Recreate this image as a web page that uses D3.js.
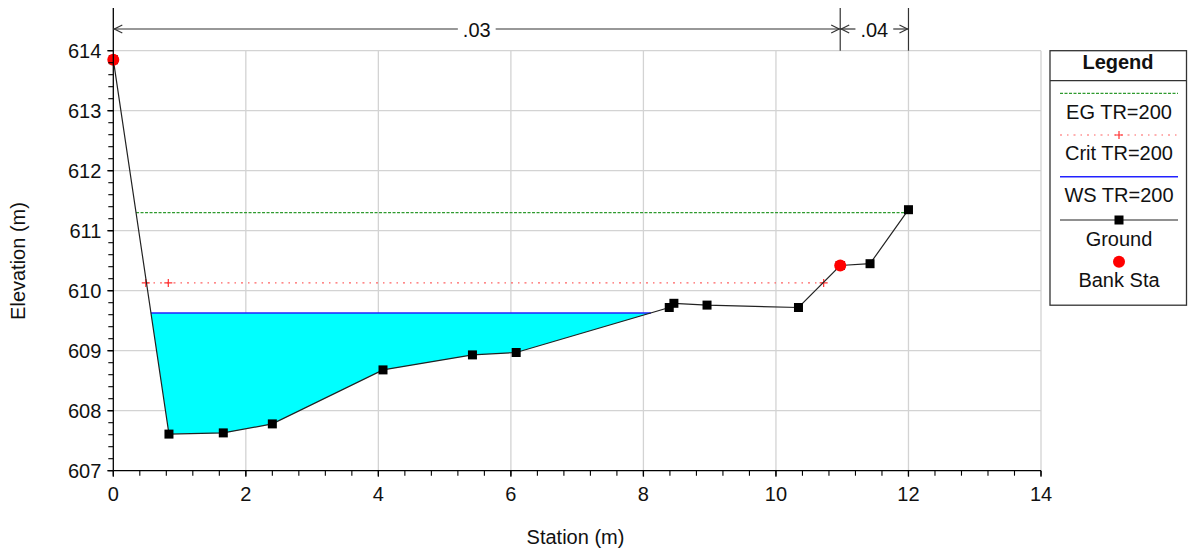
<!DOCTYPE html>
<html><head><meta charset="utf-8">
<script src="https://cdn.jsdelivr.net/npm/d3@7"></script>
<style>
body{margin:0;background:#fff;}
text{font-family:Arial,"Liberation Sans",sans-serif;}
</style></head>
<body><svg id="c" width="1189" height="554"></svg>
<script>
// ---- data ----
const groundStation = [0, 0.84, 1.66, 2.40, 4.07, 5.42, 6.08, 8.39, 8.46, 8.96, 10.34, 10.97, 11.42, 12.0];
const groundElev    = [613.85, 607.61, 607.63, 607.78, 608.68, 608.93, 608.97, 609.72, 609.79, 609.76, 609.72, 610.42, 610.45, 611.35];
const bankStation = [0, 10.97];
const bankElev    = [613.85, 610.42];
const egElev = 611.30;
const wsElev = 609.63;
const critElev = 610.13;
const critMarkStation = [0.49, 0.83, 10.72];
const nChangeStation = [0, 10.97, 12.0];
const nValues = [".03", ".04"];
const xTicks = [0, 2, 4, 6, 8, 10, 12, 14];
const yTicks = [607, 608, 609, 610, 611, 612, 613, 614];
const legendLabels = ["EG TR=200", "Crit TR=200", "WS TR=200", "Ground", "Bank Sta"];

const FS = 20;
const svg = d3.select("#c");
const x = d3.scaleLinear().domain([0, 14]).range([113.3, 1041]);
const y = d3.scaleLinear().domain([607, 614]).range([470.7, 50.7]);
const ground = groundStation.map((s, i) => [s, groundElev[i]]);

// grid
const g = svg.append("g");
g.selectAll(".gx").data(xTicks.slice(1)).join("line")
  .attr("x1", d => x(d)).attr("x2", d => x(d)).attr("y1", y(607)).attr("y2", y(614))
  .attr("stroke", "#d3d3d3").attr("stroke-width", 1.3);
g.selectAll(".gy").data(yTicks.slice(1)).join("line")
  .attr("x1", x(0)).attr("x2", x(14)).attr("y1", d => y(d)).attr("y2", d => y(d))
  .attr("stroke", "#d3d3d3").attr("stroke-width", 1.3);

// intersection helper: where the ground crosses a level
function crossings(level) {
  const out = [];
  for (let i = 0; i < ground.length - 1; i++) {
    const [s0, e0] = ground[i], [s1, e1] = ground[i + 1];
    if ((e0 - level) * (e1 - level) <= 0 && e0 !== e1) {
      out.push(s0 + (level - e0) / (e1 - e0) * (s1 - s0));
    }
  }
  return out;
}

// water fill
const wsX = crossings(wsElev);
const wsL = wsX[0], wsR = wsX[1];
const poly = [[wsL, wsElev]].concat(ground.filter(p => p[0] > wsL && p[0] < wsR)).concat([[wsR, wsElev]]);
svg.append("path").datum(poly)
  .attr("d", d3.line().x(d => x(d[0])).y(d => y(d[1])))
  .attr("fill", "#00ffff").attr("stroke", "none");
svg.append("line").attr("x1", x(wsL)).attr("x2", x(wsR)).attr("y1", y(wsElev)).attr("y2", y(wsElev))
  .attr("stroke", "#2222ff").attr("stroke-width", 1.5);

// EG
const egX = crossings(egElev);
svg.append("line").attr("x1", x(egX[0])).attr("x2", x(12)).attr("y1", y(egElev)).attr("y2", y(egElev))
  .attr("stroke", "#2f9a2f").attr("stroke-width", 1.3).attr("stroke-dasharray", "3,1.5");

// Crit
const crX = crossings(critElev);
svg.append("line").attr("x1", x(crX[0])).attr("x2", x(crX[crX.length - 1]) + 4).attr("y1", y(critElev)).attr("y2", y(critElev))
  .attr("stroke", "#ff6060").attr("stroke-width", 1.2).attr("stroke-dasharray", "2,5,1.5,5");
svg.selectAll(".cm").data(critMarkStation).join("path")
  .attr("d", d => `M${x(d) - 4},${y(critElev)}h8M${x(d)},${y(critElev) - 4}v8`)
  .attr("stroke", "#ff3030").attr("stroke-width", 1.2);

// ground
svg.append("path").datum(ground)
  .attr("d", d3.line().x(d => x(d[0])).y(d => y(d[1])))
  .attr("fill", "none").attr("stroke", "#222").attr("stroke-width", 1.2);
svg.selectAll(".gm").data(ground).join("rect")
  .attr("x", d => x(d[0]) - 4.5).attr("y", d => y(d[1]) - 4.5).attr("width", 9).attr("height", 9)
  .attr("fill", "#000");
svg.selectAll(".bk").data(bankStation).join("circle")
  .attr("cx", d => x(d)).attr("cy", (d, i) => y(bankElev[i])).attr("r", 6).attr("fill", "#ff0000");

// axes
const ax = svg.append("g").attr("stroke", "#000").attr("stroke-width", 1.3);
ax.append("line").attr("x1", x(0)).attr("x2", x(0)).attr("y1", 8).attr("y2", y(607));
ax.append("line").attr("x1", x(0)).attr("x2", x(14)).attr("y1", y(607)).attr("y2", y(607));
const yMinor = d3.range(607, 614.001, 0.2);
ax.selectAll(".ym").data(yMinor).join("line")
  .attr("x1", x(0) - 5).attr("x2", x(0)).attr("y1", d => y(d)).attr("y2", d => y(d)).attr("stroke-width", 1.1);
const xMinor = d3.range(0, 14.001, 0.4);
ax.selectAll(".xm").data(xMinor).join("line")
  .attr("x1", d => x(d)).attr("x2", d => x(d)).attr("y1", y(607)).attr("y2", y(607) + 5).attr("stroke-width", 1.1);
ax.selectAll(".xM").data(xTicks).join("line")
  .attr("x1", d => x(d)).attr("x2", d => x(d)).attr("y1", y(607)).attr("y2", y(607) + 6);
ax.selectAll(".yM").data(yTicks).join("line")
  .attr("x1", x(0) - 6).attr("x2", x(0)).attr("y1", d => y(d)).attr("y2", d => y(d));

svg.selectAll(".yl").data(yTicks).join("text")
  .attr("x", x(0) - 12).attr("y", d => y(d)).attr("dy", "0.35em").attr("text-anchor", "end")
  .attr("font-size", FS).attr("fill", "#111").text(d => d);
svg.selectAll(".xl").data(xTicks).join("text")
  .attr("x", d => x(d)).attr("y", y(607) + 23).attr("dy", "0.35em").attr("text-anchor", "middle")
  .attr("font-size", FS).attr("fill", "#111").text(d => d);
svg.append("text").attr("x", 575.5).attr("y", 537).attr("dy", "0.35em").attr("text-anchor", "middle")
  .attr("font-size", FS).attr("fill", "#111").text("Station (m)");
svg.append("text").attr("transform", "translate(18,261) rotate(-90)").attr("dy", "0.35em").attr("text-anchor", "middle")
  .attr("font-size", FS).attr("fill", "#111").text("Elevation (m)");

// n-value dimension bar
const dimY = 29;
const dm = svg.append("g").attr("stroke", "#333").attr("fill", "none").attr("stroke-width", 1.2);
nChangeStation.slice(1).forEach(s => {
  dm.append("line").attr("x1", x(s)).attr("x2", x(s)).attr("y1", 8).attr("y2", y(614));
});
nValues.forEach((n, i) => {
  const a = x(nChangeStation[i]), b = x(nChangeStation[i + 1]);
  const mid = (a + b) / 2;
  const t = svg.append("text").attr("x", mid).attr("y", dimY + 1).attr("dy", "0.36em").attr("text-anchor", "middle")
    .attr("font-size", FS).attr("fill", "#111").text(n);
  const w = t.node().getComputedTextLength() / 2 + 5;
  dm.append("line").attr("x1", a).attr("x2", mid - w).attr("y1", dimY).attr("y2", dimY);
  dm.append("line").attr("x1", mid + w).attr("x2", b).attr("y1", dimY).attr("y2", dimY);
  dm.append("path").attr("d", `M${a + 9},${dimY - 4}L${a + 1},${dimY}L${a + 9},${dimY + 4}`);
  dm.append("path").attr("d", `M${b - 9},${dimY - 4}L${b - 1},${dimY}L${b - 9},${dimY + 4}`);
});

// legend
const L = svg.append("g");
L.append("rect").attr("x", 1050).attr("y", 50.7).attr("width", 136.5).attr("height", 254.5)
  .attr("fill", "#fff").attr("stroke", "#333").attr("stroke-width", 1.3);
L.append("line").attr("x1", 1050).attr("x2", 1186.5).attr("y1", 80.7).attr("y2", 80.7).attr("stroke", "#333").attr("stroke-width", 1.3);
L.append("text").attr("x", 1118).attr("y", 62).attr("dy", "0.36em").attr("text-anchor", "middle")
  .attr("font-size", FS).attr("font-weight", "bold").attr("fill", "#111").text("Legend");
const symY = [93.3, 135, 176.7, 220, 261.7];
const txtY = [111.7, 153, 195, 239, 280];
const lx1 = 1060, lx2 = 1178, lc = 1119;
L.append("line").attr("x1", lx1).attr("x2", lx2).attr("y1", symY[0]).attr("y2", symY[0])
  .attr("stroke", "#2f9a2f").attr("stroke-width", 1.3).attr("stroke-dasharray", "3,1.5");
L.append("line").attr("x1", lx1).attr("x2", lx2).attr("y1", symY[1]).attr("y2", symY[1])
  .attr("stroke", "#ff6060").attr("stroke-width", 1.2).attr("stroke-dasharray", "2,5,1.5,5");
L.append("path").attr("d", `M${lc - 4},${symY[1]}h8M${lc},${symY[1] - 4}v8`).attr("stroke", "#ff3030").attr("stroke-width", 1.2);
L.append("line").attr("x1", lx1).attr("x2", lx2).attr("y1", symY[2]).attr("y2", symY[2])
  .attr("stroke", "#2222ff").attr("stroke-width", 1.5);
L.append("line").attr("x1", lx1).attr("x2", lx2).attr("y1", symY[3]).attr("y2", symY[3])
  .attr("stroke", "#222").attr("stroke-width", 1.2);
L.append("rect").attr("x", lc - 4.5).attr("y", symY[3] - 4.5).attr("width", 9).attr("height", 9).attr("fill", "#000");
L.append("circle").attr("cx", lc).attr("cy", symY[4]).attr("r", 6).attr("fill", "#ff0000");
L.selectAll(".lt").data(legendLabels).join("text")
  .attr("x", lc).attr("y", (d, i) => txtY[i]).attr("dy", "0.36em").attr("text-anchor", "middle")
  .attr("font-size", FS).attr("fill", "#111").text(d => d);
</script></body></html>
